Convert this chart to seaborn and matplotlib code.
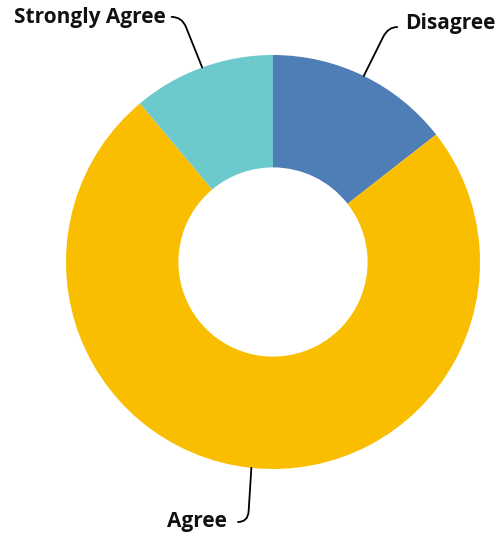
import numpy as np
import matplotlib
matplotlib.use('Agg')
import matplotlib.pyplot as plt
from matplotlib.path import Path
from matplotlib.patches import PathPatch
import seaborn as sns

# Survey answers (counts)
labels = ['Disagree', 'Agree', 'Strongly Agree']
counts = [13, 67, 10]
colors = ['#4f7db5', '#f9be00', '#6cc9cc']

sns.set_theme(style='white')
plt.rcParams['font.family'] = ['Open Sans', 'DejaVu Sans']

fig = plt.figure(figsize=(4.97, 5.38), dpi=100)
ax = fig.add_axes([0, 0, 1, 1])

wedges, _ = ax.pie(counts, colors=colors, startangle=90, counterclock=False,
                   radius=1.0, wedgeprops=dict(width=0.543, linewidth=0))

# leader line styling: corner point, end offset, text position, alignment
leaders = {
    'Disagree': dict(corner=(0.556, 1.135), end=(0.60, 1.135),
                     text=(0.638, 1.152), ha='left'),
    'Agree': dict(corner=(-0.121, -1.256), end=(-0.169, -1.256),
                  text=(-0.222, -1.256), ha='right'),
    'Strongly Agree': dict(corner=(-0.44, 1.184), end=(-0.49, 1.184),
                           text=(-0.52, 1.18), ha='right'),
}

for w, lab in zip(wedges, labels):
    mid = np.deg2rad((w.theta1 + w.theta2) / 2)
    s = np.array([np.cos(mid), np.sin(mid)])
    st = leaders[lab]
    c = np.array(st['corner'])
    e = np.array(st['end'])
    p = c + (s - c) * 0.2
    path = Path([s, p, c, e], [Path.MOVETO, Path.LINETO, Path.CURVE3, Path.CURVE3])
    ax.add_patch(PathPatch(path, fill=False, color='black', lw=1.3, capstyle='round'))
    ax.text(st['text'][0], st['text'][1], lab, ha=st['ha'], va='center',
            fontsize=15, fontweight='bold', color='#111111')

ax.set_aspect('auto')
ax.set_xlim(-273 / 207, (497 - 273) / 207)
ax.set_ylim((262 - 538) / 207, 262 / 207)
ax.axis('off')

fig.savefig('out.png', dpi=100)
